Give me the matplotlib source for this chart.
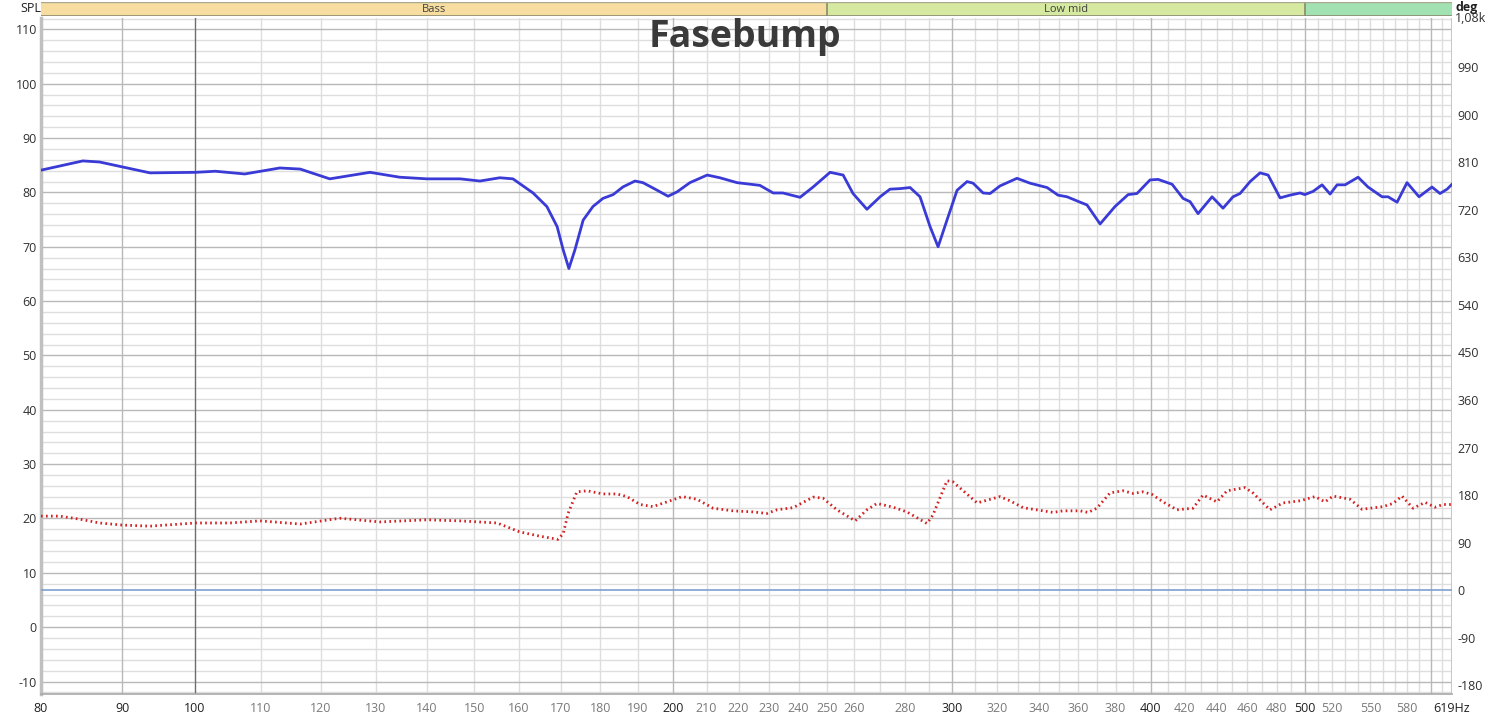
import numpy as np
import matplotlib
matplotlib.use("Agg")
import matplotlib.pyplot as plt
from matplotlib.ticker import NullLocator, NullFormatter

# ---------------- data ----------------
spl_freq = [80, 85.0, 87.1, 90.0, 93.7, 100.1, 103.0, 107.5, 113.1, 116.5, 121.6, 128.9,
            134.6, 140.0, 146.9, 151.2, 155.6, 158.6, 163.3, 166.6, 169.1, 170.6, 172.0,
            173.5, 175.6, 178.1, 180.7, 183.4, 186.0, 189.3, 191.5, 195.5, 198.6, 201.2,
            205.0, 210.2, 214.1, 219.5, 226.9, 231.3, 234.6, 240.5, 245.1, 251.2, 256.0,
            259.7, 265.0, 270.1, 274.0, 278.0, 282.1, 286.2, 290.4, 293.8, 297.6, 302.0,
            306.4, 309.1, 313.6, 316.8, 321.4, 329.4, 335.7, 344.1, 349.6, 354.2, 361.0,
            364.6, 371.6, 379.7, 387.0, 392.0, 399.5, 404.2, 412.5, 419.1, 423.4, 428.3,
            437.1, 444.1, 450.6, 455.2, 461.9, 468.6, 474.1, 482.4, 489.4, 496.6, 500.0,
            506.1, 512.7, 518.7, 524.0, 530.1, 540.2, 548.0, 559.3, 564.2, 571.6, 579.9,
            590.1, 601.3, 608.3, 614.6, 619]
spl_db = [84.1, 85.8, 85.6, 84.7, 83.6, 83.7, 83.9, 83.4, 84.5, 84.3, 82.5, 83.7,
          82.8, 82.5, 82.5, 82.1, 82.7, 82.5, 79.9, 77.4, 73.7, 69.4, 66.0,
          69.4, 74.9, 77.4, 78.9, 79.6, 81.0, 82.1, 81.8, 80.4, 79.3, 80.1,
          81.8, 83.2, 82.7, 81.8, 81.3, 79.9, 79.9, 79.1, 81.0, 83.7, 83.2,
          79.8, 76.9, 79.2, 80.6, 80.7, 80.9, 79.2, 73.7, 70.0, 74.9, 80.4,
          82.0, 81.7, 79.9, 79.8, 81.2, 82.6, 81.7, 80.9, 79.5, 79.2, 78.2,
          77.7, 74.2, 77.4, 79.6, 79.8, 82.3, 82.4, 81.5, 78.9, 78.3, 76.1,
          79.2, 77.1, 79.2, 79.8, 82.0, 83.6, 83.2, 79.0, 79.5, 79.9, 79.6,
          80.2, 81.4, 79.7, 81.4, 81.4, 82.8, 81.0, 79.2, 79.2, 78.2, 81.8,
          79.2, 81.0, 79.8, 80.6, 81.5]

phase_freq = [80, 82.2, 84.7, 87.1, 90.0, 93.7, 100.1, 105.2, 109.9, 116.5, 123.4, 130.8,
              140.0, 146.9, 155.0, 160.2, 164.9, 169.3, 170.6, 171.8, 174.0, 176.6, 180.7,
              184.4, 187.1, 190.7, 194.3, 198.3, 202.7, 207.1, 212.0, 218.2, 224.6, 229.2,
              232.6, 238.1, 245.1, 248.6, 253.7, 260.5, 265.0, 268.9, 275.2, 280.8, 289.1,
              291.6, 297.6, 300.2, 310.9, 321.4, 326.1, 332.3, 342.1, 347.1, 352.1, 361.0,
              365.2, 369.9, 377.0, 384.1, 389.8, 395.4, 400.7, 407.1, 415.4, 425.2, 431.4,
              440.2, 446.7, 458.5, 463.8, 475.4, 484.4, 496.6, 507.5, 514.9, 521.0, 533.9,
              543.3, 560.1, 568.3, 575.7, 585.0, 595.3, 603.9, 611.0, 619]
phase_deg = [140, 140, 134, 127, 123, 121, 127, 127, 131, 125, 136, 129,
             133, 131, 127, 110, 102, 96, 107, 145, 186, 188, 182,
             182, 177, 162, 158, 167, 177, 172, 155, 150, 148, 145,
             152, 156, 176, 174, 152, 131, 152, 164, 157, 148, 126,
             142, 207, 205, 165, 177, 169, 156, 150, 147, 150, 150,
             147, 155, 184, 188, 183, 186, 181, 167, 152, 155, 180,
             167, 188, 194, 184, 152, 165, 169, 177, 167, 178, 172,
             153, 158, 164, 178, 155, 166, 157, 162, 162]

bands = [("Bass", 80, 250, "#f7dea0"), ("Low mid", 250, 500, "#d5eaa0"), ("", 500, 619, "#a2e2b2")]

x_major_labels = [80, 90, 100, 200, 300, 400, 500]
x_minor_labels = [110, 120, 130, 140, 150, 160, 170, 180, 190, 210, 220, 230, 240, 250, 260,
                  280, 320, 340, 360, 380, 420, 440, 460, 480, 520, 550, 580]
spl_ticks = list(range(-10, 111, 10))
deg_ticks = [-180, -90, 0, 90, 180, 270, 360, 450, 540, 630, 720, 810, 900, 990]

# ---------------- figure ----------------
W, H = 1504, 719
fig = plt.figure(figsize=(W / 100, H / 100), dpi=100)
plt.rcParams['font.family'] = ['Open Sans', 'DejaVu Sans']

L, R, T, B = 41, 1452, 18, 694
ax = fig.add_axes([L / W, 1 - B / H, (R - L) / W, (B - T) / H])
ax.set_xscale('log')
xmin, xmax = 80, 619
ax.set_xlim(xmin, xmax)
ax.set_ylim(-12.3, 112.1)

# grid
minor_v = [f for f in range(110, 620, 10) if f not in (200, 300, 400, 500, 600)]
for f in minor_v:
    ax.axvline(f, color='#dedede', lw=1, zorder=0)
for f in [90, 200, 300, 400, 500, 600]:
    ax.axvline(f, color='#b8b8b8', lw=1, zorder=0.5)
ax.axvline(100, color='#6e6e6e', lw=1, zorder=0.6)
for v in np.arange(-12, 113, 2):
    if v % 10 == 0:
        ax.axhline(v, color='#b8b8b8', lw=1, zorder=0.5)
    else:
        ax.axhline(v, color='#dedede', lw=1, zorder=0)

ax.xaxis.set_major_locator(NullLocator())
ax.xaxis.set_minor_locator(NullLocator())
ax.xaxis.set_major_formatter(NullFormatter())
ax.xaxis.set_minor_formatter(NullFormatter())
ax.set_yticks(spl_ticks)
ax.set_yticklabels([str(t) for t in spl_ticks], fontsize=9, color='#303030')
ax.tick_params(axis='y', length=0, pad=3)
ax.tick_params(axis='x', length=0)

for s in ['top', 'right']:
    ax.spines[s].set_visible(False)
ax.spines['left'].set_color('#c0c0c0')
ax.spines['left'].set_linewidth(2.5)
ax.spines['bottom'].set_color('#a8a8a8')
ax.spines['bottom'].set_linewidth(1.2)
ax.axvline(xmax, color='#c8c8c8', lw=1.5, zorder=0.7)

# x tick labels as text
trans = ax.get_xaxis_transform()
for f in x_major_labels:
    ax.text(f, -0.012, str(f), transform=trans, ha='center', va='top', fontsize=9, color='#202020')
for f in x_minor_labels:
    ax.text(f, -0.012, str(f), transform=trans, ha='center', va='top', fontsize=9, color='#7a7a7a')
ax.text(619, -0.012, "619Hz", transform=trans, ha='center', va='top', fontsize=9, color='#202020')

# SPL trace
ax.plot(spl_freq, spl_db, color='#3a3ad6', lw=2.0, zorder=5, solid_joinstyle='round')

# phase axis
ax2 = ax.twinx()
ax2.set_ylim(-197, 1083.7)
ax2.set_xlim(xmin, xmax)
ax2.set_yticks(deg_ticks)
ax2.set_yticklabels([str(t) for t in deg_ticks], fontsize=9, color='#303030')
ax2.tick_params(axis='y', length=0, pad=4)
for s in ax2.spines.values():
    s.set_visible(False)
ax2.axhline(0, color='#7f9fd0', lw=1.2, zorder=2)
ax2.plot(phase_freq, phase_deg, color='#d42020', lw=2.0, ls=(0, (0.6, 1.2)), zorder=5,
         dash_capstyle='butt')

# labels
fig.text(20 / W, 1 - 8 / H, "SPL", fontsize=9, ha='left', va='center', color='#202020')
fig.text(1455 / W, 1 - 7 / H, "deg", fontsize=9, ha='left', va='center', color='#202020', fontweight='bold')
fig.text(1455 / W, 1 - 19 / H, "1,08k", fontsize=9, ha='left', va='center', color='#303030')

# title
fig.text(745 / W, 1 - 37 / H, "Fasebump", ha='center', va='center',
         fontsize=27, fontweight='bold', color='#3a3a3a', zorder=10)

# band axes
bax = fig.add_axes([L / W, 1 - 16 / H, (R - L) / W, 14 / H])
bax.set_xscale('log')
bax.set_xlim(xmin, xmax)
bax.set_ylim(0, 1)
bax.axis('off')
for name, f0, f1, col in bands:
    bax.axvspan(f0, f1, color=col, zorder=0)
    if name:
        bax.text(np.sqrt(f0 * f1), 0.5, name, ha='center', va='center', fontsize=8, color='#404040')
for f in [250, 500]:
    bax.axvline(f, color='#8a8a6a', lw=1.2)
bax.axhline(0, color='#8a8a70', lw=1.2)
bax.axhline(1, color='#a8a890', lw=1)

fig.savefig("out.png", dpi=100)
